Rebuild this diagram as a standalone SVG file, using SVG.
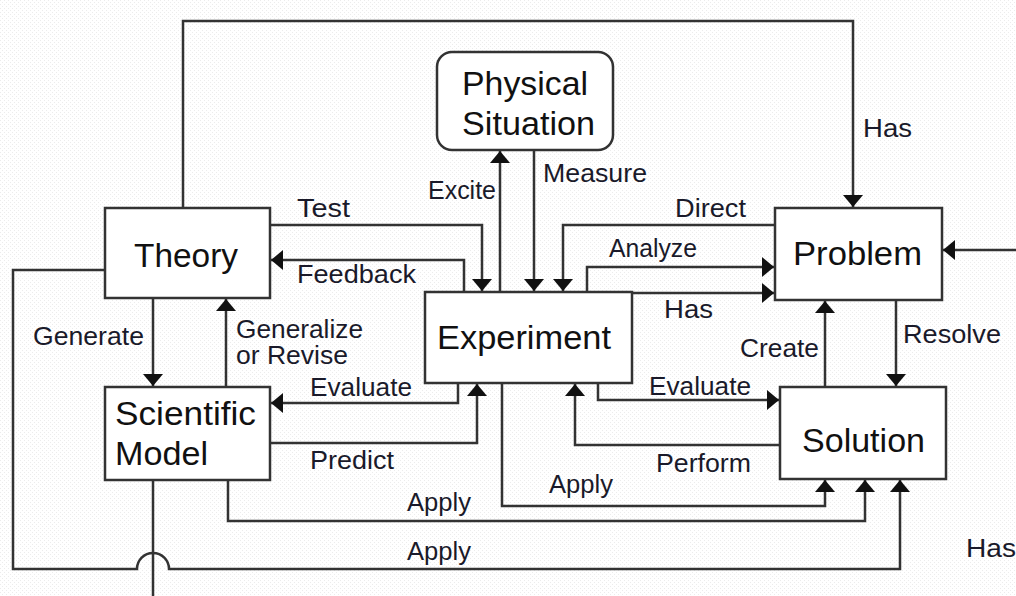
<svg xmlns="http://www.w3.org/2000/svg" width="1016" height="596" viewBox="0 0 1016 596">
<defs>
<pattern id="dots" width="4" height="4" patternUnits="userSpaceOnUse">
<rect width="4" height="4" fill="#ffffff"/>
<rect x="0" y="0" width="1" height="1" fill="#ececec"/>
<rect x="2" y="2" width="1" height="1" fill="#ececec"/>
</pattern>
<marker id="ah" viewBox="0 0 12 20" refX="12" refY="10" markerWidth="12" markerHeight="20" markerUnits="userSpaceOnUse" orient="auto">
<path d="M0,0 L12,10 L0,20 z" fill="#111"/>
</marker>
</defs>
<style>
.box{fill:#ffffff;stroke:#333;stroke-width:2.5}
.nl{font-family:"Liberation Sans",Arial,sans-serif;font-size:34px;fill:#111}
.el{font-family:"Liberation Sans",Arial,sans-serif;font-size:25px;fill:#1a1a2a}
.c{fill:none;stroke:#333;stroke-width:2.5}
.c.a{marker-end:url(#ah)}
</style>
<rect width="1016" height="596" fill="url(#dots)"/>

<g id="connectors">
<path class="c a" d="M183,208 V21 H853 V207"/>
<path class="c a" d="M270,225 H482 V291"/>
<path class="c a" d="M464,292 V260 H271"/>
<path class="c a" d="M500,292 V151"/>
<path class="c a" d="M534,150 V291"/>
<path class="c a" d="M775,225 H563 V291"/>
<path class="c a" d="M587,292 V267 H774"/>
<path class="c a" d="M632,293 H774"/>
<path class="c a" d="M1016,250 H943"/>
<path class="c a" d="M153,298 V386"/>
<path class="c a" d="M226,387 V299"/>
<path class="c a" d="M458,383 V403 H271"/>
<path class="c a" d="M270,443 H477 V384"/>
<path class="c a" d="M825,387 V301"/>
<path class="c a" d="M896,300 V386"/>
<path class="c a" d="M598,383 V400 H779"/>
<path class="c a" d="M780,445 H575 V384"/>
<path class="c a" d="M502,383 V506 H825 V480"/>
<path class="c a" d="M228,480 V521 H865 V480"/>
<path class="c a" d="M105,270 H13 V569 H137 A16,16 0 0 1 169,569 H900 V480"/>
<path class="c" d="M153,480 V596"/>
</g>

<g id="edge-labels">
<text class="el" x="863" y="137" textLength="49" lengthAdjust="spacingAndGlyphs">Has</text>
<text class="el" x="428" y="199" textLength="68" lengthAdjust="spacingAndGlyphs">Excite</text>
<text class="el" x="543" y="182" textLength="104" lengthAdjust="spacingAndGlyphs">Measure</text>
<text class="el" x="297" y="217" textLength="53" lengthAdjust="spacingAndGlyphs">Test</text>
<text class="el" x="675" y="217" textLength="71" lengthAdjust="spacingAndGlyphs">Direct</text>
<text class="el" x="609" y="257" textLength="88" lengthAdjust="spacingAndGlyphs">Analyze</text>
<text class="el" x="297" y="283" textLength="119" lengthAdjust="spacingAndGlyphs">Feedback</text>
<text class="el" x="664" y="318" textLength="49" lengthAdjust="spacingAndGlyphs">Has</text>
<text class="el" x="33" y="345" textLength="111" lengthAdjust="spacingAndGlyphs">Generate</text>
<text class="el" x="236" y="338" textLength="127" lengthAdjust="spacingAndGlyphs">Generalize</text>
<text class="el" x="236" y="364" textLength="112" lengthAdjust="spacingAndGlyphs">or Revise</text>
<text class="el" x="310" y="396" textLength="102" lengthAdjust="spacingAndGlyphs">Evaluate</text>
<text class="el" x="310" y="469" textLength="84" lengthAdjust="spacingAndGlyphs">Predict</text>
<text class="el" x="407" y="511" textLength="64" lengthAdjust="spacingAndGlyphs">Apply</text>
<text class="el" x="407" y="560" textLength="64" lengthAdjust="spacingAndGlyphs">Apply</text>
<text class="el" x="740" y="357" textLength="79" lengthAdjust="spacingAndGlyphs">Create</text>
<text class="el" x="903" y="343" textLength="98" lengthAdjust="spacingAndGlyphs">Resolve</text>
<text class="el" x="649" y="395" textLength="102" lengthAdjust="spacingAndGlyphs">Evaluate</text>
<text class="el" x="656" y="472" textLength="95" lengthAdjust="spacingAndGlyphs">Perform</text>
<text class="el" x="549" y="493" textLength="64" lengthAdjust="spacingAndGlyphs">Apply</text>
<text class="el" x="966" y="557" textLength="50" lengthAdjust="spacingAndGlyphs">Has</text>
</g>

<g id="physical-situation">
<rect class="box" x="437" y="52" width="176" height="98" rx="15" ry="15"/>
<text class="nl" x="462" y="95" textLength="126" lengthAdjust="spacingAndGlyphs">Physical</text>
<text class="nl" x="462" y="135" textLength="133" lengthAdjust="spacingAndGlyphs">Situation</text>
</g>
<g id="theory">
<rect class="box" x="105" y="208" width="165" height="90"/>
<text class="nl" x="134" y="267" textLength="104" lengthAdjust="spacingAndGlyphs">Theory</text>
</g>
<g id="problem">
<rect class="box" x="775" y="208" width="167" height="92"/>
<text class="nl" x="793" y="265" textLength="129" lengthAdjust="spacingAndGlyphs">Problem</text>
</g>
<g id="experiment">
<rect class="box" x="425" y="292" width="207" height="91"/>
<text class="nl" x="437" y="349" textLength="174" lengthAdjust="spacingAndGlyphs">Experiment</text>
</g>
<g id="scientific-model">
<rect class="box" x="105" y="387" width="165" height="93"/>
<text class="nl" x="115" y="425" textLength="141" lengthAdjust="spacingAndGlyphs">Scientific</text>
<text class="nl" x="115" y="465" textLength="93" lengthAdjust="spacingAndGlyphs">Model</text>
</g>
<g id="solution">
<rect class="box" x="780" y="387" width="166" height="92"/>
<text class="nl" x="802" y="452" textLength="123" lengthAdjust="spacingAndGlyphs">Solution</text>
</g>
</svg>
